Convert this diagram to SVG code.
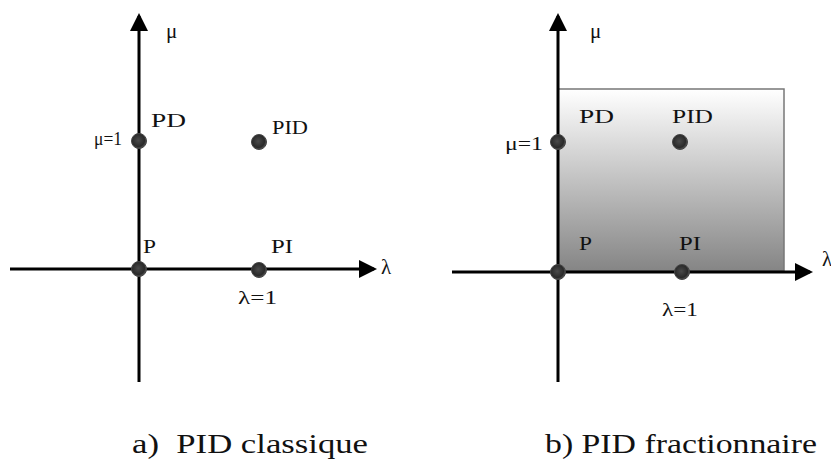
<svg xmlns="http://www.w3.org/2000/svg" width="831" height="463" viewBox="0 0 831 463">
<defs>
<linearGradient id="g" x1="0" y1="0" x2="0" y2="1">
<stop offset="0" stop-color="#ffffff"/>
<stop offset="1" stop-color="#858585"/>
</linearGradient>
<marker id="ah" markerWidth="6" markerHeight="6" refX="5" refY="3" orient="auto" markerUnits="strokeWidth">
<path d="M0,0 L6,3 L0,6 Z" fill="#000"/>
</marker>
<radialGradient id="dg" cx="0.45" cy="0.45" r="0.6">
<stop offset="0" stop-color="#4a4a4a"/>
<stop offset="0.7" stop-color="#2a2a2a"/>
<stop offset="1" stop-color="#666"/>
</radialGradient>
</defs>
<style>
.ax{stroke:#000;stroke-width:3;fill:none}
.dot{fill:url(#dg);stroke:#444;stroke-width:1}
text{font-family:"Liberation Serif","Times New Roman",serif;fill:#111}
.lb{font-size:19px}
.gr{font-size:21px}
.cap{font-size:27px}
</style>
<rect width="831" height="463" fill="#fff"/>
<g id="region">
<rect x="558" y="89" width="226" height="182" fill="url(#g)" stroke="#777" stroke-width="1.5"/>
</g>
<g id="connectors">
<line class="ax" x1="139" y1="382" x2="139" y2="16" marker-end="url(#ah)"/>
<line class="ax" x1="10" y1="269" x2="374" y2="269" marker-end="url(#ah)"/>
<line class="ax" x1="558" y1="382" x2="558" y2="16" marker-end="url(#ah)"/>
<line class="ax" x1="452" y1="272" x2="810" y2="272" marker-end="url(#ah)"/>
</g>
<g id="left-labels">
<text class="gr" x="166" y="38">μ</text>
<text class="gr" x="381" y="274">λ</text>
</g>
<g id="n-P-a"><circle class="dot" cx="139" cy="269" r="7.5"/><text class="lb" x="143" y="253" textLength="13" lengthAdjust="spacingAndGlyphs">P</text></g>
<g id="n-PD-a"><circle class="dot" cx="139" cy="141" r="7.5"/><text class="lb" x="151" y="127" textLength="35" lengthAdjust="spacingAndGlyphs">PD</text><text class="lb" x="94" y="145" textLength="28" lengthAdjust="spacingAndGlyphs">μ=1</text></g>
<g id="n-PID-a"><circle class="dot" cx="259" cy="142" r="7.5"/><text class="lb" x="272" y="134" textLength="36" lengthAdjust="spacingAndGlyphs">PID</text></g>
<g id="n-PI-a"><circle class="dot" cx="259" cy="270" r="7.5"/><text class="lb" x="271" y="253" textLength="22" lengthAdjust="spacingAndGlyphs">PI</text><text class="lb" x="238" y="304" textLength="39" lengthAdjust="spacingAndGlyphs">λ=1</text></g>
<g id="right-labels">
<text class="gr" x="590" y="38">μ</text>
<text class="gr" x="822" y="266">λ</text>
</g>
<g id="n-P-b"><circle class="dot" cx="558" cy="272" r="7.5"/><text class="lb" x="579" y="250" textLength="13" lengthAdjust="spacingAndGlyphs">P</text></g>
<g id="n-PD-b"><circle class="dot" cx="558" cy="142" r="7.5"/><text class="lb" x="579" y="123" textLength="35" lengthAdjust="spacingAndGlyphs">PD</text><text class="lb" x="505" y="150" textLength="38" lengthAdjust="spacingAndGlyphs">μ=1</text></g>
<g id="n-PID-b"><circle class="dot" cx="680" cy="142" r="7.5"/><text class="lb" x="672" y="123" textLength="41" lengthAdjust="spacingAndGlyphs">PID</text></g>
<g id="n-PI-b"><circle class="dot" cx="682" cy="272" r="7.5"/><text class="lb" x="679" y="250" textLength="22" lengthAdjust="spacingAndGlyphs">PI</text><text class="lb" x="662" y="316" textLength="36" lengthAdjust="spacingAndGlyphs">λ=1</text></g>
<g id="captions">
<text class="cap" x="132" y="453" textLength="236" lengthAdjust="spacingAndGlyphs" xml:space="preserve">a)  PID classique</text>
<text class="cap" x="545" y="453" textLength="272" lengthAdjust="spacingAndGlyphs">b) PID fractionnaire</text>
</g>
</svg>
